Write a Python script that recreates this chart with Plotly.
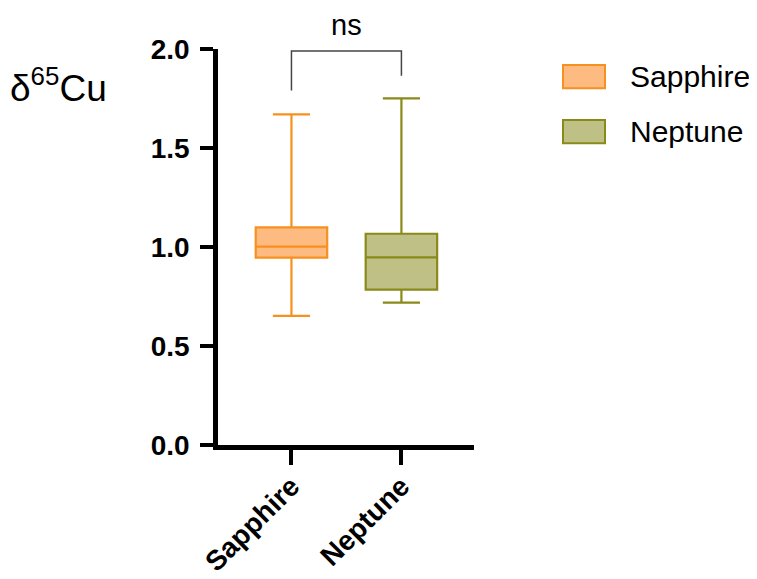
import plotly.graph_objects as go

# ---- data ----
categories = ["Sapphire", "Neptune"]
lower_whisker = [0.652, 0.719]
q1 = [0.946, 0.785]
median = [1.002, 0.948]
q3 = [1.099, 1.067]
upper_whisker = [1.670, 1.751]
y_ticks = [0.0, 0.5, 1.0, 1.5, 2.0]
y_tick_labels = ["0.0", "0.5", "1.0", "1.5", "2.0"]
sig_label = "ns"
bracket_top = 1.99
bracket_left_end = 1.79
bracket_right_end = 1.865

# ---- styles ----
line_colors = ["#F7901E", "#8A8A1A"]
fill_colors = ["#FDBB82", "#BFC086"]
OFF = 8  # page body margin
W, H = 757 - OFF, 579 - OFF
# target plot area in screenshot pixels
PX_L, PX_R, PX_T, PX_B = 218, 474, 49, 445
L, R, T, B = PX_L - OFF, 757 - PX_R, PX_T - OFF, 579 - PX_B
FONT = "Liberation Sans, Arial, sans-serif"

pw = PX_R - PX_L
ph = PX_B - PX_T


def px_x(p):
    return (p - PX_L) / pw


def px_y(p):
    return (PX_B - p) / ph


fig = go.Figure()
for i, cat in enumerate(categories):
    fig.add_trace(go.Box(
        x=[cat], q1=[q1[i]], median=[median[i]], q3=[q3[i]],
        lowerfence=[lower_whisker[i]], upperfence=[upper_whisker[i]],
        fillcolor=fill_colors[i], line=dict(color=line_colors[i], width=2.2),
        width=0.65, whiskerwidth=0.52, boxpoints=False, showlegend=False,
        name=cat,
    ))

fig.add_trace(go.Scatter(
    x=[categories[0], categories[0], categories[1], categories[1]],
    y=[bracket_left_end, bracket_top, bracket_top, bracket_right_end],
    mode="lines", line=dict(color="#444444", width=1.5),
    showlegend=False, hoverinfo="skip", cliponaxis=False,
))

annotations = [
    dict(text=sig_label, x=0.5, xref="x", y=px_y(25), yref="paper",
         showarrow=False, font=dict(family=FONT, size=29, color="black"),
         xanchor="center", yanchor="middle"),
    dict(text="δ<sup>65</sup>Cu", x=px_x(8), xref="paper", y=px_y(85), yref="paper",
         showarrow=False, font=dict(family=FONT, size=37, color="black"),
         xanchor="left", yanchor="middle"),
]
shapes = []
legend_rows = [(65, 88.3), (120, 143.3)]
for i, cat in enumerate(categories):
    y0, y1 = legend_rows[i]
    shapes.append(dict(type="rect", xref="paper", yref="paper",
                       x0=px_x(563), x1=px_x(605), y0=px_y(y1), y1=px_y(y0),
                       fillcolor=fill_colors[i], line=dict(color=line_colors[i], width=2)))
    annotations.append(dict(text=cat, x=px_x(628), xref="paper", y=px_y((y0 + y1) / 2),
                            yref="paper", showarrow=False, xanchor="left", yanchor="middle",
                            font=dict(family=FONT, size=30, color="black")))

fig.update_layout(
    width=W, height=H, margin=dict(l=L, r=R, t=T, b=B, autoexpand=False),
    plot_bgcolor="white", paper_bgcolor="white",
    annotations=annotations, shapes=shapes,
    xaxis=dict(type="category", categoryorder="array", categoryarray=categories,
               range=[-0.668, 1.66], showline=True, linewidth=4.5, linecolor="black",
               ticks="outside", ticklen=15, tickwidth=4, tickcolor="black",
               tickangle=-45, showgrid=False, zeroline=False, automargin=False,
               ticklabelstandoff=-6,
               tickfont=dict(family=FONT, size=28, color="black", weight="bold")),
    yaxis=dict(range=[0, 2.0], tickvals=y_ticks, ticktext=y_tick_labels,
               showline=True, linewidth=4.5, linecolor="black",
               ticks="outside", ticklen=13, tickwidth=4, tickcolor="black",
               ticklabelstandoff=5, showgrid=False, zeroline=False, automargin=False,
               tickfont=dict(family=FONT, size=28, color="black", weight="bold")),
)

fig.write_html("out.html")
